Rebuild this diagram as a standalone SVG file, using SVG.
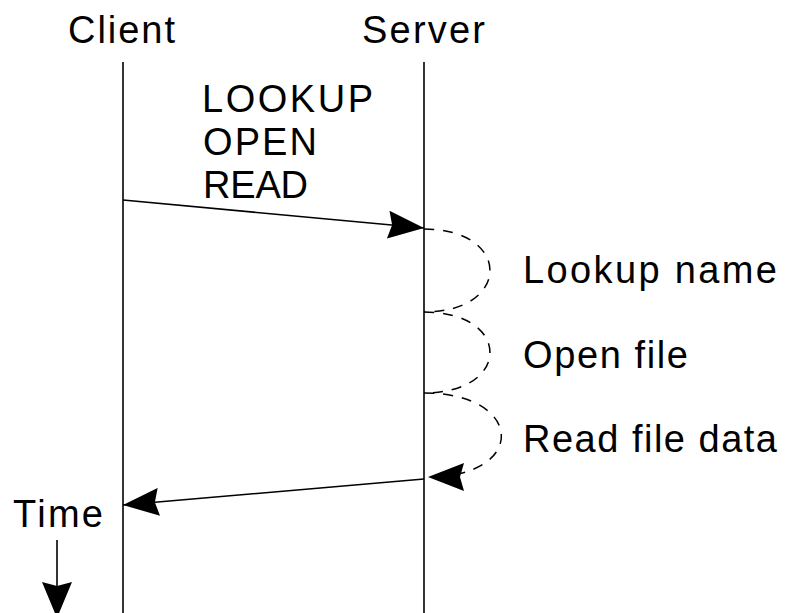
<svg xmlns="http://www.w3.org/2000/svg" width="785" height="613" viewBox="0 0 785 613">
<style>
  text { font-family: "Liberation Sans", Arial, sans-serif; font-size: 38px; fill: #000; }
  .life { stroke: #000; stroke-width: 1.6; fill: none; }
  .msg { stroke: #000; stroke-width: 1.6; fill: none; }
  .work { stroke: #000; stroke-width: 1.5; fill: none; stroke-dasharray: 10 9; }
</style>
<defs>
  <marker id="head" markerUnits="userSpaceOnUse" viewBox="0 0 36 28" refX="36" refY="14" markerWidth="36" markerHeight="28" orient="auto">
    <path d="M0,0 L36,14 L0,28 L4,14 z" fill="#000"/>
  </marker>
  <marker id="headT" markerUnits="userSpaceOnUse" viewBox="0 0 36 30" refX="36" refY="15" markerWidth="36" markerHeight="30" orient="auto">
    <path d="M0,0 L36,15 L0,30 L4,15 z" fill="#000"/>
  </marker>
</defs>
<g id="client">
  <text x="68" y="43" textLength="107" lengthAdjust="spacing">Client</text>
  <line class="life" x1="123" y1="62" x2="123" y2="613"/>
</g>
<g id="server">
  <text x="362" y="43" textLength="123" lengthAdjust="spacing">Server</text>
  <line class="life" x1="424" y1="62" x2="424" y2="613"/>
</g>
<g id="request-label">
  <text x="202" y="112" font-size="40" textLength="171" lengthAdjust="spacing">LOOKUP</text>
  <text x="203" y="155" font-size="40" textLength="114" lengthAdjust="spacing">OPEN</text>
  <text x="203" y="198" font-size="40" textLength="105" lengthAdjust="spacing">READ</text>
</g>
<g id="steps">
  <text x="523" y="283" textLength="254" lengthAdjust="spacing">Lookup name</text>
  <text x="523" y="368" textLength="165" lengthAdjust="spacing">Open file</text>
  <text x="523" y="452" textLength="254" lengthAdjust="spacing">Read file data</text>
</g>
<g id="time">
  <text x="13" y="527" textLength="90" lengthAdjust="spacing">Time</text>
  <line class="msg" x1="57" y1="540" x2="57" y2="618" marker-end="url(#headT)"/>
</g>
<g id="connectors">
  <line class="msg" x1="123" y1="200" x2="424" y2="228" marker-end="url(#head)"/>
  <path class="work" d="M424,229 C512,229 512,312 424,312"/>
  <path class="work" d="M424,312 C512,312 512,393 424,393"/>
  <path class="work" d="M424,393 C525,393 528,477 428,477" marker-end="url(#head)"/>
  <line class="msg" x1="424" y1="479" x2="123" y2="505" marker-end="url(#head)"/>
</g>
</svg>
